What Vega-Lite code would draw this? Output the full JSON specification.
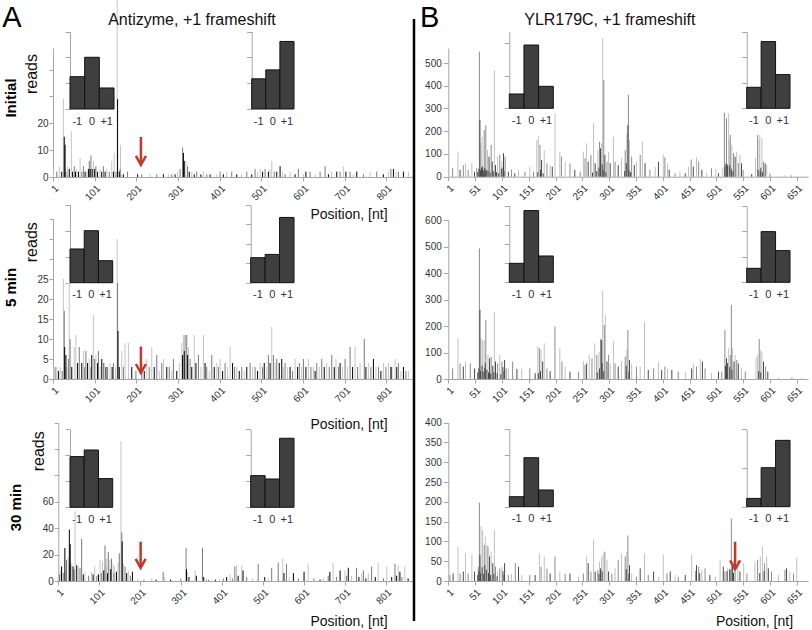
{
"$schema":"https://vega.github.io/schema/vega-lite/v6.json",
"width":812,"height":630,"padding":0,"autosize":{"type":"none"},
"background":"white",
"config":{"view":{"stroke":null},"font":"Liberation Sans","axis":{"grid":false,"domainColor":"#a6a6a6","tickColor":"#a6a6a6","labelColor":"#333333","labelFontSize":10,"titleColor":"#111111","titleFontWeight":"normal"}},
"datasets":{
"a1":[{"p":2,"r":3,"f":2},{"p":10,"r":2,"f":1},{"p":16,"r":4,"f":2},{"p":22,"r":2,"f":0},{"p":26,"r":29,"f":2},{"p":28,"r":15,"f":0},{"p":30,"r":12,"f":0},{"p":32,"r":2,"f":1},{"p":36,"r":4,"f":2},{"p":40,"r":3,"f":0},{"p":45,"r":17,"f":2},{"p":48,"r":2,"f":0},{"p":52,"r":4,"f":1},{"p":55,"r":2,"f":0},{"p":58,"r":3,"f":2},{"p":62,"r":2,"f":0},{"p":66,"r":7,"f":2},{"p":70,"r":2,"f":1},{"p":74,"r":4,"f":1},{"p":78,"r":2,"f":0},{"p":82,"r":2,"f":2},{"p":86,"r":3,"f":0},{"p":88,"r":6,"f":1},{"p":90,"r":3,"f":0},{"p":92,"r":8,"f":1},{"p":95,"r":3,"f":0},{"p":98,"r":6,"f":2},{"p":101,"r":3,"f":0},{"p":104,"r":4,"f":1},{"p":108,"r":2,"f":0},{"p":114,"r":3,"f":2},{"p":118,"r":2,"f":0},{"p":122,"r":4,"f":1},{"p":126,"r":2,"f":0},{"p":130,"r":3,"f":2},{"p":136,"r":2,"f":1},{"p":142,"r":6,"f":2},{"p":146,"r":2,"f":0},{"p":148,"r":9,"f":2},{"p":152,"r":2,"f":1},{"p":155,"r":66,"f":2},{"p":156,"r":29,"f":0},{"p":160,"r":2,"f":0},{"p":162,"r":3,"f":1},{"p":163,"r":12,"f":2},{"p":166,"r":1,"f":2},{"p":170,"r":1,"f":0},{"p":180,"r":2,"f":1},{"p":204,"r":1,"f":0},{"p":214,"r":1,"f":1},{"p":234,"r":1,"f":2},{"p":250,"r":1,"f":1},{"p":266,"r":1,"f":0},{"p":278,"r":1,"f":2},{"p":286,"r":1,"f":1},{"p":294,"r":1,"f":0},{"p":300,"r":2,"f":2},{"p":306,"r":3,"f":1},{"p":312,"r":11,"f":1},{"p":314,"r":9,"f":0},{"p":316,"r":6,"f":0},{"p":320,"r":6,"f":2},{"p":324,"r":4,"f":1},{"p":328,"r":2,"f":0},{"p":334,"r":2,"f":2},{"p":340,"r":1,"f":0},{"p":346,"r":2,"f":1},{"p":356,"r":1,"f":0},{"p":362,"r":2,"f":2},{"p":370,"r":1,"f":1},{"p":378,"r":1,"f":0},{"p":394,"r":1,"f":2},{"p":402,"r":2,"f":1},{"p":410,"r":1,"f":0},{"p":418,"r":2,"f":2},{"p":430,"r":2,"f":1},{"p":442,"r":1,"f":0},{"p":454,"r":1,"f":2},{"p":466,"r":2,"f":1},{"p":478,"r":1,"f":0},{"p":486,"r":3,"f":1},{"p":492,"r":2,"f":2},{"p":498,"r":3,"f":2},{"p":504,"r":2,"f":0},{"p":510,"r":3,"f":1},{"p":518,"r":2,"f":0},{"p":522,"r":3,"f":2},{"p":526,"r":6,"f":2},{"p":532,"r":2,"f":1},{"p":538,"r":2,"f":0},{"p":546,"r":4,"f":0},{"p":552,"r":2,"f":2},{"p":558,"r":1,"f":1},{"p":570,"r":2,"f":2},{"p":582,"r":1,"f":0},{"p":590,"r":3,"f":1},{"p":602,"r":1,"f":2},{"p":608,"r":2,"f":0},{"p":618,"r":2,"f":1},{"p":630,"r":1,"f":2},{"p":642,"r":2,"f":1},{"p":654,"r":4,"f":1},{"p":662,"r":1,"f":0},{"p":670,"r":2,"f":2},{"p":682,"r":2,"f":0},{"p":690,"r":2,"f":1},{"p":698,"r":4,"f":2},{"p":704,"r":2,"f":0},{"p":714,"r":2,"f":1},{"p":722,"r":1,"f":2},{"p":730,"r":2,"f":0},{"p":746,"r":1,"f":1},{"p":762,"r":2,"f":2},{"p":778,"r":2,"f":1},{"p":794,"r":1,"f":0},{"p":806,"r":2,"f":2},{"p":812,"r":3,"f":1},{"p":818,"r":3,"f":0},{"p":824,"r":2,"f":2},{"p":830,"r":2,"f":1},{"p":842,"r":2,"f":0},{"p":854,"r":2,"f":2}],
"a2":[{"p":2,"r":3,"f":2},{"p":6,"r":3,"f":1},{"p":10,"r":3,"f":2},{"p":14,"r":2,"f":0},{"p":18,"r":3,"f":2},{"p":23,"r":2,"f":1},{"p":26,"r":25,"f":2},{"p":28,"r":17,"f":1},{"p":29,"r":8,"f":0},{"p":32,"r":6,"f":0},{"p":34,"r":3,"f":2},{"p":38,"r":5,"f":1},{"p":40,"r":24,"f":2},{"p":42,"r":10,"f":1},{"p":46,"r":3,"f":0},{"p":52,"r":8,"f":2},{"p":56,"r":11,"f":2},{"p":60,"r":4,"f":0},{"p":64,"r":8,"f":1},{"p":70,"r":4,"f":0},{"p":74,"r":7,"f":2},{"p":77,"r":3,"f":1},{"p":80,"r":7,"f":1},{"p":84,"r":4,"f":0},{"p":88,"r":5,"f":2},{"p":92,"r":3,"f":1},{"p":94,"r":6,"f":0},{"p":98,"r":16,"f":2},{"p":101,"r":5,"f":1},{"p":104,"r":6,"f":2},{"p":108,"r":4,"f":0},{"p":110,"r":7,"f":1},{"p":114,"r":3,"f":2},{"p":118,"r":5,"f":0},{"p":122,"r":4,"f":1},{"p":124,"r":4,"f":2},{"p":128,"r":3,"f":0},{"p":132,"r":3,"f":1},{"p":138,"r":4,"f":2},{"p":143,"r":3,"f":0},{"p":146,"r":4,"f":1},{"p":151,"r":3,"f":2},{"p":155,"r":35,"f":2},{"p":156,"r":24,"f":1},{"p":157,"r":12,"f":0},{"p":160,"r":3,"f":0},{"p":166,"r":7,"f":2},{"p":170,"r":3,"f":1},{"p":174,"r":9,"f":2},{"p":182,"r":9,"f":2},{"p":190,"r":3,"f":0},{"p":200,"r":2,"f":1},{"p":214,"r":4,"f":1},{"p":220,"r":2,"f":0},{"p":226,"r":5,"f":2},{"p":232,"r":3,"f":1},{"p":238,"r":8,"f":2},{"p":244,"r":3,"f":0},{"p":250,"r":6,"f":1},{"p":256,"r":2,"f":2},{"p":262,"r":4,"f":1},{"p":266,"r":5,"f":2},{"p":274,"r":3,"f":0},{"p":280,"r":3,"f":1},{"p":286,"r":2,"f":2},{"p":290,"r":5,"f":1},{"p":298,"r":2,"f":0},{"p":304,"r":4,"f":2},{"p":310,"r":9,"f":2},{"p":312,"r":6,"f":0},{"p":314,"r":11,"f":2},{"p":316,"r":7,"f":0},{"p":318,"r":11,"f":1},{"p":322,"r":11,"f":1},{"p":324,"r":6,"f":0},{"p":326,"r":8,"f":2},{"p":330,"r":5,"f":1},{"p":334,"r":3,"f":0},{"p":340,"r":11,"f":2},{"p":344,"r":4,"f":0},{"p":350,"r":6,"f":1},{"p":356,"r":3,"f":2},{"p":362,"r":11,"f":2},{"p":366,"r":4,"f":0},{"p":370,"r":3,"f":1},{"p":376,"r":2,"f":2},{"p":382,"r":6,"f":1},{"p":388,"r":3,"f":0},{"p":394,"r":4,"f":2},{"p":398,"r":3,"f":1},{"p":402,"r":5,"f":2},{"p":408,"r":2,"f":0},{"p":414,"r":4,"f":1},{"p":420,"r":3,"f":2},{"p":426,"r":8,"f":2},{"p":432,"r":4,"f":0},{"p":437,"r":3,"f":1},{"p":442,"r":3,"f":2},{"p":448,"r":2,"f":0},{"p":454,"r":3,"f":1},{"p":460,"r":2,"f":2},{"p":466,"r":3,"f":0},{"p":474,"r":4,"f":1},{"p":480,"r":3,"f":2},{"p":486,"r":3,"f":1},{"p":492,"r":2,"f":0},{"p":498,"r":4,"f":2},{"p":504,"r":3,"f":1},{"p":508,"r":4,"f":0},{"p":514,"r":3,"f":2},{"p":518,"r":6,"f":1},{"p":522,"r":4,"f":0},{"p":526,"r":13,"f":2},{"p":530,"r":6,"f":1},{"p":534,"r":4,"f":2},{"p":538,"r":5,"f":1},{"p":544,"r":4,"f":0},{"p":550,"r":5,"f":0},{"p":554,"r":3,"f":2},{"p":558,"r":4,"f":1},{"p":564,"r":3,"f":2},{"p":570,"r":3,"f":0},{"p":576,"r":2,"f":1},{"p":582,"r":5,"f":2},{"p":588,"r":3,"f":0},{"p":592,"r":4,"f":1},{"p":598,"r":3,"f":2},{"p":602,"r":5,"f":1},{"p":608,"r":3,"f":0},{"p":614,"r":5,"f":2},{"p":620,"r":3,"f":1},{"p":626,"r":3,"f":2},{"p":630,"r":2,"f":0},{"p":634,"r":4,"f":1},{"p":640,"r":3,"f":2},{"p":646,"r":5,"f":1},{"p":652,"r":3,"f":0},{"p":658,"r":4,"f":2},{"p":664,"r":3,"f":1},{"p":670,"r":6,"f":1},{"p":676,"r":3,"f":0},{"p":680,"r":5,"f":2},{"p":686,"r":3,"f":1},{"p":690,"r":4,"f":0},{"p":696,"r":3,"f":2},{"p":702,"r":5,"f":1},{"p":708,"r":3,"f":2},{"p":714,"r":8,"f":1},{"p":720,"r":3,"f":0},{"p":726,"r":8,"f":2},{"p":732,"r":3,"f":1},{"p":738,"r":4,"f":2},{"p":748,"r":10,"f":1},{"p":752,"r":3,"f":0},{"p":758,"r":4,"f":2},{"p":764,"r":3,"f":1},{"p":770,"r":5,"f":0},{"p":776,"r":3,"f":2},{"p":782,"r":3,"f":1},{"p":788,"r":2,"f":0},{"p":794,"r":4,"f":2},{"p":800,"r":3,"f":1},{"p":806,"r":4,"f":2},{"p":812,"r":3,"f":0},{"p":814,"r":3,"f":1},{"p":822,"r":5,"f":2},{"p":826,"r":3,"f":0},{"p":830,"r":4,"f":1},{"p":836,"r":2,"f":2},{"p":842,"r":3,"f":0},{"p":848,"r":2,"f":1},{"p":854,"r":2,"f":2}],
"a3":[{"p":1,"r":3,"f":2},{"p":4,"r":5,"f":1},{"p":7,"r":8,"f":2},{"p":9,"r":11,"f":0},{"p":13,"r":6,"f":1},{"p":17,"r":25,"f":0},{"p":19,"r":8,"f":2},{"p":21,"r":16,"f":1},{"p":25,"r":18,"f":2},{"p":28,"r":39,"f":0},{"p":30,"r":28,"f":0},{"p":31,"r":12,"f":1},{"p":34,"r":14,"f":2},{"p":37,"r":11,"f":0},{"p":40,"r":9,"f":1},{"p":42,"r":53,"f":2},{"p":46,"r":12,"f":0},{"p":50,"r":11,"f":2},{"p":54,"r":10,"f":1},{"p":58,"r":32,"f":1},{"p":62,"r":5,"f":0},{"p":66,"r":7,"f":2},{"p":75,"r":4,"f":1},{"p":82,"r":7,"f":2},{"p":86,"r":5,"f":0},{"p":90,"r":11,"f":2},{"p":95,"r":4,"f":1},{"p":99,"r":5,"f":0},{"p":103,"r":16,"f":2},{"p":106,"r":6,"f":1},{"p":109,"r":15,"f":2},{"p":112,"r":8,"f":0},{"p":115,"r":27,"f":1},{"p":117,"r":12,"f":2},{"p":119,"r":17,"f":2},{"p":121,"r":6,"f":0},{"p":123,"r":22,"f":1},{"p":127,"r":16,"f":2},{"p":129,"r":9,"f":0},{"p":131,"r":17,"f":1},{"p":135,"r":13,"f":2},{"p":137,"r":6,"f":1},{"p":139,"r":11,"f":2},{"p":143,"r":7,"f":0},{"p":147,"r":14,"f":2},{"p":150,"r":21,"f":1},{"p":154,"r":106,"f":2},{"p":156,"r":37,"f":1},{"p":157,"r":30,"f":0},{"p":160,"r":13,"f":2},{"p":164,"r":11,"f":1},{"p":168,"r":6,"f":0},{"p":172,"r":8,"f":2},{"p":177,"r":4,"f":1},{"p":182,"r":7,"f":0},{"p":195,"r":2,"f":2},{"p":210,"r":1,"f":1},{"p":229,"r":2,"f":2},{"p":240,"r":1,"f":0},{"p":257,"r":7,"f":1},{"p":261,"r":3,"f":2},{"p":275,"r":1,"f":0},{"p":300,"r":2,"f":1},{"p":313,"r":25,"f":1},{"p":314,"r":9,"f":0},{"p":316,"r":7,"f":2},{"p":320,"r":3,"f":0},{"p":335,"r":8,"f":2},{"p":338,"r":4,"f":0},{"p":353,"r":25,"f":1},{"p":356,"r":3,"f":0},{"p":363,"r":2,"f":2},{"p":368,"r":1,"f":1},{"p":385,"r":1,"f":0},{"p":395,"r":2,"f":2},{"p":404,"r":2,"f":1},{"p":412,"r":3,"f":0},{"p":420,"r":5,"f":2},{"p":426,"r":2,"f":1},{"p":432,"r":11,"f":1},{"p":436,"r":12,"f":2},{"p":440,"r":4,"f":0},{"p":449,"r":12,"f":2},{"p":452,"r":8,"f":0},{"p":461,"r":3,"f":1},{"p":475,"r":2,"f":2},{"p":489,"r":13,"f":1},{"p":505,"r":3,"f":0},{"p":515,"r":2,"f":2},{"p":522,"r":10,"f":1},{"p":538,"r":14,"f":1},{"p":549,"r":17,"f":2},{"p":552,"r":6,"f":0},{"p":558,"r":13,"f":1},{"p":565,"r":3,"f":2},{"p":575,"r":6,"f":0},{"p":587,"r":2,"f":1},{"p":601,"r":7,"f":0},{"p":611,"r":13,"f":2},{"p":625,"r":2,"f":1},{"p":640,"r":1,"f":0},{"p":648,"r":2,"f":2},{"p":660,"r":4,"f":1},{"p":664,"r":7,"f":0},{"p":672,"r":14,"f":2},{"p":680,"r":3,"f":1},{"p":689,"r":8,"f":0},{"p":701,"r":8,"f":2},{"p":705,"r":4,"f":1},{"p":709,"r":10,"f":0},{"p":717,"r":4,"f":2},{"p":729,"r":10,"f":1},{"p":735,"r":3,"f":0},{"p":742,"r":6,"f":2},{"p":746,"r":8,"f":1},{"p":752,"r":2,"f":0},{"p":758,"r":6,"f":2},{"p":766,"r":11,"f":1},{"p":775,"r":3,"f":0},{"p":782,"r":14,"f":2},{"p":795,"r":2,"f":1},{"p":803,"r":11,"f":2},{"p":815,"r":3,"f":0},{"p":823,"r":13,"f":1},{"p":827,"r":4,"f":0},{"p":831,"r":12,"f":2},{"p":835,"r":7,"f":0},{"p":840,"r":3,"f":1},{"p":847,"r":11,"f":2},{"p":855,"r":2,"f":0}],
"b1":[{"p":9,"r":37,"f":1},{"p":19,"r":110,"f":2},{"p":23,"r":30,"f":0},{"p":29,"r":51,"f":1},{"p":33,"r":59,"f":2},{"p":38,"r":30,"f":1},{"p":45,"r":59,"f":2},{"p":50,"r":22,"f":0},{"p":54,"r":37,"f":1},{"p":59,"r":550,"f":1},{"p":60,"r":250,"f":0},{"p":62,"r":147,"f":2},{"p":63,"r":40,"f":0},{"p":64,"r":176,"f":2},{"p":66,"r":30,"f":0},{"p":68,"r":205,"f":1},{"p":70,"r":25,"f":0},{"p":71,"r":227,"f":1},{"p":74,"r":117,"f":2},{"p":77,"r":88,"f":0},{"p":81,"r":140,"f":1},{"p":83,"r":66,"f":0},{"p":87,"r":469,"f":2},{"p":89,"r":51,"f":0},{"p":93,"r":88,"f":2},{"p":97,"r":96,"f":1},{"p":100,"r":35,"f":0},{"p":101,"r":66,"f":2},{"p":104,"r":103,"f":0},{"p":107,"r":88,"f":1},{"p":113,"r":22,"f":0},{"p":119,"r":32,"f":1},{"p":125,"r":15,"f":0},{"p":132,"r":30,"f":2},{"p":144,"r":22,"f":1},{"p":153,"r":44,"f":2},{"p":160,"r":22,"f":1},{"p":166,"r":161,"f":2},{"p":169,"r":179,"f":2},{"p":172,"r":140,"f":1},{"p":175,"r":74,"f":0},{"p":180,"r":117,"f":2},{"p":185,"r":59,"f":1},{"p":191,"r":51,"f":2},{"p":195,"r":44,"f":0},{"p":200,"r":279,"f":2},{"p":209,"r":110,"f":2},{"p":212,"r":88,"f":1},{"p":219,"r":66,"f":2},{"p":228,"r":59,"f":1},{"p":237,"r":30,"f":0},{"p":247,"r":22,"f":1},{"p":253,"r":110,"f":2},{"p":256,"r":81,"f":1},{"p":259,"r":147,"f":2},{"p":262,"r":66,"f":0},{"p":267,"r":96,"f":1},{"p":272,"r":235,"f":2},{"p":275,"r":59,"f":0},{"p":280,"r":117,"f":2},{"p":283,"r":154,"f":1},{"p":285,"r":125,"f":0},{"p":287,"r":147,"f":2},{"p":289,"r":609,"f":2},{"p":291,"r":425,"f":1},{"p":293,"r":96,"f":0},{"p":297,"r":66,"f":1},{"p":300,"r":110,"f":2},{"p":303,"r":59,"f":0},{"p":309,"r":176,"f":2},{"p":312,"r":66,"f":1},{"p":318,"r":51,"f":0},{"p":324,"r":81,"f":2},{"p":331,"r":117,"f":1},{"p":334,"r":191,"f":2},{"p":336,"r":227,"f":0},{"p":337,"r":360,"f":1},{"p":339,"r":161,"f":2},{"p":343,"r":88,"f":1},{"p":348,"r":51,"f":0},{"p":352,"r":66,"f":2},{"p":359,"r":96,"f":1},{"p":363,"r":154,"f":2},{"p":368,"r":59,"f":0},{"p":377,"r":30,"f":1},{"p":387,"r":44,"f":2},{"p":393,"r":66,"f":0},{"p":402,"r":96,"f":2},{"p":405,"r":85,"f":1},{"p":410,"r":59,"f":2},{"p":413,"r":30,"f":0},{"p":424,"r":15,"f":1},{"p":433,"r":22,"f":2},{"p":443,"r":15,"f":0},{"p":449,"r":44,"f":2},{"p":454,"r":76,"f":1},{"p":458,"r":44,"f":0},{"p":464,"r":85,"f":2},{"p":468,"r":66,"f":1},{"p":474,"r":30,"f":0},{"p":483,"r":18,"f":2},{"p":492,"r":37,"f":1},{"p":500,"r":32,"f":2},{"p":505,"r":15,"f":0},{"p":512,"r":37,"f":2},{"p":516,"r":282,"f":1},{"p":519,"r":59,"f":0},{"p":520,"r":257,"f":1},{"p":522,"r":50,"f":0},{"p":524,"r":279,"f":2},{"p":525,"r":161,"f":2},{"p":527,"r":183,"f":1},{"p":530,"r":140,"f":2},{"p":533,"r":103,"f":1},{"p":536,"r":88,"f":0},{"p":539,"r":110,"f":2},{"p":542,"r":59,"f":1},{"p":545,"r":96,"f":2},{"p":548,"r":59,"f":0},{"p":551,"r":30,"f":1},{"p":567,"r":12,"f":0},{"p":574,"r":81,"f":2},{"p":578,"r":183,"f":1},{"p":581,"r":161,"f":2},{"p":582,"r":183,"f":2},{"p":584,"r":40,"f":0},{"p":586,"r":169,"f":2},{"p":589,"r":66,"f":1},{"p":592,"r":59,"f":0},{"p":595,"r":51,"f":2},{"p":601,"r":15,"f":1},{"p":629,"r":7,"f":2},{"p":641,"r":6,"f":1},{"p":56,"r":20,"f":0},{"p":58,"r":35,"f":0},{"p":61,"r":28,"f":0},{"p":65,"r":45,"f":0},{"p":67,"r":22,"f":0},{"p":69,"r":38,"f":0},{"p":72,"r":30,"f":0},{"p":75,"r":26,"f":0},{"p":79,"r":18,"f":0},{"p":85,"r":24,"f":0},{"p":91,"r":20,"f":0},{"p":95,"r":15,"f":0},{"p":103,"r":40,"f":0},{"p":105,"r":25,"f":0},{"p":168,"r":20,"f":0},{"p":173,"r":30,"f":0},{"p":178,"r":15,"f":0},{"p":270,"r":18,"f":0},{"p":278,"r":25,"f":0},{"p":282,"r":40,"f":0},{"p":288,"r":55,"f":0},{"p":290,"r":30,"f":0},{"p":295,"r":20,"f":0},{"p":330,"r":25,"f":0},{"p":333,"r":60,"f":0},{"p":338,"r":30,"f":0},{"p":341,"r":20,"f":0},{"p":517,"r":45,"f":0},{"p":521,"r":55,"f":0},{"p":526,"r":50,"f":0},{"p":529,"r":35,"f":0},{"p":532,"r":25,"f":0},{"p":579,"r":30,"f":0},{"p":583,"r":25,"f":0},{"p":587,"r":20,"f":0}],
"b2":[{"p":9,"r":40,"f":1},{"p":19,"r":156,"f":2},{"p":23,"r":59,"f":1},{"p":29,"r":47,"f":0},{"p":33,"r":66,"f":2},{"p":42,"r":59,"f":1},{"p":50,"r":40,"f":0},{"p":59,"r":494,"f":1},{"p":60,"r":261,"f":0},{"p":62,"r":154,"f":2},{"p":65,"r":147,"f":2},{"p":68,"r":147,"f":2},{"p":70,"r":60,"f":0},{"p":71,"r":223,"f":1},{"p":75,"r":91,"f":2},{"p":78,"r":78,"f":0},{"p":81,"r":84,"f":1},{"p":84,"r":50,"f":0},{"p":87,"r":255,"f":2},{"p":89,"r":66,"f":0},{"p":93,"r":59,"f":1},{"p":97,"r":91,"f":2},{"p":101,"r":66,"f":1},{"p":106,"r":72,"f":0},{"p":109,"r":40,"f":1},{"p":113,"r":40,"f":2},{"p":121,"r":66,"f":1},{"p":129,"r":38,"f":0},{"p":138,"r":38,"f":2},{"p":153,"r":40,"f":1},{"p":163,"r":22,"f":0},{"p":168,"r":122,"f":2},{"p":171,"r":116,"f":1},{"p":174,"r":110,"f":2},{"p":177,"r":66,"f":0},{"p":180,"r":135,"f":2},{"p":185,"r":40,"f":1},{"p":191,"r":30,"f":0},{"p":200,"r":198,"f":1},{"p":209,"r":116,"f":2},{"p":213,"r":66,"f":1},{"p":219,"r":47,"f":2},{"p":228,"r":28,"f":0},{"p":244,"r":28,"f":1},{"p":253,"r":66,"f":2},{"p":256,"r":53,"f":1},{"p":259,"r":59,"f":0},{"p":264,"r":91,"f":2},{"p":269,"r":78,"f":1},{"p":274,"r":135,"f":2},{"p":278,"r":91,"f":1},{"p":282,"r":103,"f":2},{"p":285,"r":151,"f":1},{"p":287,"r":147,"f":0},{"p":289,"r":333,"f":2},{"p":292,"r":204,"f":1},{"p":294,"r":242,"f":2},{"p":297,"r":66,"f":0},{"p":300,"r":91,"f":1},{"p":303,"r":59,"f":2},{"p":309,"r":144,"f":2},{"p":312,"r":59,"f":1},{"p":318,"r":47,"f":0},{"p":324,"r":66,"f":2},{"p":331,"r":84,"f":1},{"p":334,"r":110,"f":2},{"p":336,"r":185,"f":1},{"p":339,"r":72,"f":0},{"p":343,"r":59,"f":2},{"p":352,"r":47,"f":1},{"p":359,"r":47,"f":2},{"p":367,"r":217,"f":2},{"p":374,"r":34,"f":0},{"p":384,"r":40,"f":1},{"p":393,"r":66,"f":2},{"p":399,"r":34,"f":0},{"p":405,"r":47,"f":1},{"p":410,"r":40,"f":2},{"p":418,"r":34,"f":0},{"p":430,"r":28,"f":1},{"p":443,"r":28,"f":2},{"p":455,"r":40,"f":0},{"p":458,"r":59,"f":2},{"p":464,"r":47,"f":1},{"p":471,"r":76,"f":2},{"p":475,"r":66,"f":0},{"p":480,"r":40,"f":1},{"p":492,"r":22,"f":2},{"p":505,"r":28,"f":0},{"p":511,"r":28,"f":1},{"p":517,"r":185,"f":1},{"p":520,"r":78,"f":0},{"p":524,"r":116,"f":2},{"p":527,"r":91,"f":1},{"p":529,"r":280,"f":1},{"p":531,"r":116,"f":2},{"p":534,"r":66,"f":0},{"p":536,"r":91,"f":2},{"p":539,"r":72,"f":1},{"p":542,"r":59,"f":0},{"p":548,"r":40,"f":2},{"p":555,"r":28,"f":1},{"p":575,"r":81,"f":2},{"p":578,"r":91,"f":2},{"p":581,"r":151,"f":1},{"p":583,"r":110,"f":2},{"p":586,"r":103,"f":2},{"p":589,"r":66,"f":0},{"p":593,"r":47,"f":1},{"p":597,"r":28,"f":0},{"p":617,"r":5,"f":2},{"p":642,"r":5,"f":1},{"p":660,"r":4,"f":2},{"p":56,"r":25,"f":0},{"p":58,"r":40,"f":0},{"p":61,"r":30,"f":0},{"p":64,"r":50,"f":0},{"p":66,"r":28,"f":0},{"p":69,"r":42,"f":0},{"p":73,"r":35,"f":0},{"p":76,"r":25,"f":0},{"p":80,"r":20,"f":0},{"p":86,"r":26,"f":0},{"p":92,"r":22,"f":0},{"p":99,"r":18,"f":0},{"p":103,"r":45,"f":0},{"p":105,"r":28,"f":0},{"p":169,"r":22,"f":0},{"p":173,"r":30,"f":0},{"p":279,"r":25,"f":0},{"p":283,"r":40,"f":0},{"p":288,"r":60,"f":0},{"p":291,"r":30,"f":0},{"p":333,"r":50,"f":0},{"p":338,"r":28,"f":0},{"p":518,"r":50,"f":0},{"p":522,"r":60,"f":0},{"p":526,"r":45,"f":0},{"p":530,"r":35,"f":0},{"p":580,"r":30,"f":0},{"p":584,"r":25,"f":0}],
"b3":[{"p":4,"r":15,"f":1},{"p":10,"r":19,"f":0},{"p":19,"r":87,"f":2},{"p":23,"r":19,"f":1},{"p":29,"r":24,"f":0},{"p":33,"r":70,"f":2},{"p":38,"r":19,"f":1},{"p":45,"r":66,"f":2},{"p":50,"r":24,"f":0},{"p":57,"r":36,"f":1},{"p":59,"r":198,"f":1},{"p":60,"r":66,"f":0},{"p":62,"r":139,"f":2},{"p":65,"r":129,"f":2},{"p":68,"r":91,"f":1},{"p":70,"r":112,"f":2},{"p":73,"r":91,"f":2},{"p":75,"r":87,"f":1},{"p":78,"r":62,"f":0},{"p":81,"r":74,"f":2},{"p":84,"r":45,"f":0},{"p":87,"r":129,"f":2},{"p":89,"r":36,"f":1},{"p":93,"r":24,"f":2},{"p":97,"r":32,"f":1},{"p":101,"r":36,"f":2},{"p":106,"r":45,"f":0},{"p":113,"r":15,"f":1},{"p":119,"r":18,"f":2},{"p":126,"r":45,"f":1},{"p":132,"r":36,"f":0},{"p":138,"r":15,"f":2},{"p":153,"r":15,"f":1},{"p":163,"r":15,"f":0},{"p":171,"r":70,"f":2},{"p":174,"r":36,"f":1},{"p":180,"r":62,"f":2},{"p":185,"r":32,"f":1},{"p":191,"r":19,"f":0},{"p":200,"r":62,"f":1},{"p":209,"r":24,"f":2},{"p":219,"r":18,"f":1},{"p":228,"r":19,"f":0},{"p":244,"r":11,"f":2},{"p":253,"r":19,"f":1},{"p":259,"r":62,"f":2},{"p":262,"r":45,"f":0},{"p":267,"r":24,"f":1},{"p":272,"r":105,"f":2},{"p":275,"r":24,"f":0},{"p":280,"r":28,"f":1},{"p":283,"r":49,"f":2},{"p":285,"r":32,"f":0},{"p":287,"r":62,"f":2},{"p":290,"r":70,"f":2},{"p":293,"r":74,"f":1},{"p":297,"r":53,"f":2},{"p":300,"r":24,"f":0},{"p":306,"r":19,"f":1},{"p":312,"r":32,"f":2},{"p":318,"r":53,"f":1},{"p":324,"r":70,"f":2},{"p":331,"r":62,"f":1},{"p":334,"r":74,"f":2},{"p":336,"r":115,"f":1},{"p":339,"r":40,"f":0},{"p":343,"r":19,"f":2},{"p":352,"r":11,"f":1},{"p":359,"r":32,"f":0},{"p":367,"r":70,"f":2},{"p":374,"r":15,"f":1},{"p":384,"r":24,"f":0},{"p":393,"r":11,"f":2},{"p":402,"r":66,"f":2},{"p":409,"r":19,"f":1},{"p":415,"r":24,"f":0},{"p":424,"r":15,"f":2},{"p":430,"r":11,"f":1},{"p":443,"r":15,"f":0},{"p":455,"r":66,"f":2},{"p":464,"r":40,"f":0},{"p":468,"r":36,"f":1},{"p":474,"r":28,"f":2},{"p":480,"r":32,"f":1},{"p":489,"r":15,"f":0},{"p":499,"r":11,"f":2},{"p":508,"r":53,"f":2},{"p":514,"r":36,"f":0},{"p":517,"r":24,"f":1},{"p":522,"r":32,"f":2},{"p":527,"r":28,"f":1},{"p":529,"r":158,"f":1},{"p":531,"r":36,"f":0},{"p":534,"r":53,"f":2},{"p":536,"r":24,"f":1},{"p":541,"r":53,"f":2},{"p":545,"r":24,"f":0},{"p":552,"r":45,"f":2},{"p":558,"r":19,"f":1},{"p":573,"r":49,"f":2},{"p":578,"r":53,"f":1},{"p":583,"r":62,"f":2},{"p":587,"r":87,"f":2},{"p":591,"r":45,"f":1},{"p":595,"r":62,"f":2},{"p":598,"r":32,"f":0},{"p":604,"r":24,"f":1},{"p":617,"r":15,"f":2},{"p":629,"r":28,"f":1},{"p":632,"r":32,"f":0},{"p":638,"r":24,"f":2},{"p":645,"r":19,"f":1},{"p":651,"r":60,"f":2},{"p":56,"r":15,"f":0},{"p":58,"r":25,"f":0},{"p":61,"r":20,"f":0},{"p":64,"r":35,"f":0},{"p":67,"r":18,"f":0},{"p":69,"r":40,"f":0},{"p":72,"r":28,"f":0},{"p":76,"r":20,"f":0},{"p":80,"r":15,"f":0},{"p":86,"r":18,"f":0},{"p":92,"r":12,"f":0},{"p":103,"r":25,"f":0},{"p":105,"r":15,"f":0},{"p":282,"r":18,"f":0},{"p":288,"r":25,"f":0},{"p":333,"r":30,"f":0},{"p":338,"r":18,"f":0},{"p":463,"r":25,"f":0},{"p":470,"r":20,"f":0},{"p":521,"r":25,"f":0},{"p":526,"r":30,"f":0},{"p":533,"r":20,"f":0},{"p":582,"r":20,"f":0},{"p":590,"r":25,"f":0}],
"ins":[{"p":"A1L","k":"-1","v":41.8},{"p":"A1L","k":"0","v":66.9},{"p":"A1L","k":"+1","v":27.2},{"p":"A1R","k":"-1","v":39},{"p":"A1R","k":"0","v":50.6},{"p":"A1R","k":"+1","v":87.4},{"p":"A2L","k":"-1","v":43.4},{"p":"A2L","k":"0","v":66.9},{"p":"A2L","k":"+1","v":28.3},{"p":"A2R","k":"-1","v":32.2},{"p":"A2R","k":"0","v":36.4},{"p":"A2R","k":"+1","v":84},{"p":"A3L","k":"-1","v":65},{"p":"A3L","k":"0","v":73.5},{"p":"A3L","k":"+1","v":36.8},{"p":"A3R","k":"-1","v":40.6},{"p":"A3R","k":"0","v":36.3},{"p":"A3R","k":"+1","v":88.5},{"p":"B1L","k":"-1","v":18.7},{"p":"B1L","k":"0","v":82.6},{"p":"B1L","k":"+1","v":28.7},{"p":"B1R","k":"-1","v":27.4},{"p":"B1R","k":"0","v":87.1},{"p":"B1R","k":"+1","v":44},{"p":"B2L","k":"-1","v":24.9},{"p":"B2L","k":"0","v":94},{"p":"B2L","k":"+1","v":34.5},{"p":"B2R","k":"-1","v":18.3},{"p":"B2R","k":"0","v":66.4},{"p":"B2R","k":"+1","v":41.5},{"p":"B3L","k":"-1","v":12.9},{"p":"B3L","k":"0","v":63.3},{"p":"B3L","k":"+1","v":21.6},{"p":"B3R","k":"-1","v":10.7},{"p":"B3R","k":"0","v":50.4},{"p":"B3R","k":"+1","v":85.7}]
},
"layer":[
{"data":{"name":"a1"},"mark":{"type":"rule","strokeWidth":1},"encoding":{
 "x":{"field":"p","type":"quantitative","scale":{"domain":[1,865],"range":[53,413],"nice":false,"zero":false},"axis":{"orient":"bottom","offset":-453,"values":[1,101,201,301,401,501,601,701,801],"labelAngle":-45,"tickSize":4,"title":"Position, [nt]","titleX":348.5,"titleY":37.5,"titleFontSize":14,"titleAlign":"center","titleBaseline":"middle","titleAngle":0}},
 "y":{"field":"r","type":"quantitative","scale":{"domain":[0,48],"range":[177,48],"nice":false,"zero":false},"axis":{"orient":"left","offset":-53,"values":[0,10,20,30,40],"labelExpr":"datum.value <= 20 ? datum.label : ''","tickSize":4,"labelPadding":1,"title":"reads","titleX":-22,"titleY":73.5,"titleFontSize":16,"titleAlign":"center","titleBaseline":"middle","titleAngle":-90}},
 "y2":{"datum":0},
 "color":{"field":"f","type":"nominal","scale":{"domain":[0,1,2],"range":["#000000","#7a7a7a","#c4c4c4"]},"legend":null},
 "order":{"field":"f","type":"quantitative","sort":"descending"}}},
{"data":{"values":[{}]},"mark":{"type":"rule","color":"#c0392b","strokeWidth":2.5},"encoding":{"x":{"datum":212,"scale":{"domain":[1,865],"range":[53,413],"nice":false,"zero":false},"axis":null},"y":{"datum":14.9,"scale":{"domain":[0,48],"range":[177,48],"nice":false,"zero":false},"axis":null},"y2":{"datum":5.2}}},
{"data":{"values":[{}]},"mark":{"type":"point","shape":"M-1,-1.8L0,0L1,-1.8","filled":false,"color":"#c0392b","strokeWidth":2.5,"size":100,"opacity":1},"encoding":{"x":{"datum":212,"scale":{"domain":[1,865],"range":[53,413],"nice":false,"zero":false},"axis":null},"y":{"datum":4.5,"scale":{"domain":[0,48],"range":[177,48],"nice":false,"zero":false},"axis":null}}},
{"data":{"values":[{}]},"mark":{"type":"text","text":"A","fontSize":29,"align":"left","baseline":"alphabetic","color":"#000000"},"encoding":{"x":{"datum":-121,"scale":{"domain":[1,865],"range":[53,413],"nice":false,"zero":false},"axis":null},"y":{"datum":55.8,"scale":{"domain":[0,48],"range":[177,48],"nice":false,"zero":false},"axis":null}}},
{"data":{"values":[{}]},"mark":{"type":"text","text":"Antizyme, +1 frameshift","fontSize":16,"align":"center","baseline":"alphabetic","color":"#111111"},"encoding":{"x":{"datum":334.6,"scale":{"domain":[1,865],"range":[53,413],"nice":false,"zero":false},"axis":null},"y":{"datum":56.7,"scale":{"domain":[0,48],"range":[177,48],"nice":false,"zero":false},"axis":null}}},
{"data":{"values":[{}]},"mark":{"type":"rule","color":"#000000","strokeWidth":2.5},"encoding":{"x":{"datum":867.4,"scale":{"domain":[1,865],"range":[53,413],"nice":false,"zero":false},"axis":null},"y":{"datum":58.8,"scale":{"domain":[0,48],"range":[177,48],"nice":false,"zero":false},"axis":null},"y2":{"datum":-165.2}}},
{"data":{"name":"a2"},"mark":{"type":"rule","strokeWidth":1},"encoding":{
 "x":{"field":"p","type":"quantitative","scale":{"domain":[1,865],"range":[53,413],"nice":false,"zero":false},"axis":{"orient":"bottom","offset":-251,"values":[1,101,201,301,401,501,601,701,801],"labelAngle":-45,"tickSize":4,"title":"Position, [nt]","titleX":348.5,"titleY":45.5,"titleFontSize":14,"titleAlign":"center","titleBaseline":"middle","titleAngle":0}},
 "y":{"field":"r","type":"quantitative","scale":{"domain":[0,40],"range":[379,219],"nice":false,"zero":false},"axis":{"orient":"left","offset":-53,"values":[0,5,10,15,20,25,30,35,40],"labelExpr":"datum.value <= 25 ? datum.label : ''","tickSize":4,"labelPadding":1,"title":"reads","titleX":-22,"titleY":241.7,"titleFontSize":16,"titleAlign":"center","titleBaseline":"middle","titleAngle":-90}},
 "y2":{"datum":0},
 "color":{"field":"f","type":"nominal","scale":{"domain":[0,1,2],"range":["#000000","#7a7a7a","#c4c4c4"]},"legend":null},
 "order":{"field":"f","type":"quantitative","sort":"descending"}}},
{"data":{"values":[{}]},"mark":{"type":"rule","color":"#c0392b","strokeWidth":2.5},"encoding":{"x":{"datum":212,"scale":{"domain":[1,865],"range":[53,413],"nice":false,"zero":false},"axis":null},"y":{"datum":8.1,"scale":{"domain":[0,40],"range":[379,219],"nice":false,"zero":false},"axis":null},"y2":{"datum":1.9}}},
{"data":{"values":[{}]},"mark":{"type":"point","shape":"M-1,-1.8L0,0L1,-1.8","filled":false,"color":"#c0392b","strokeWidth":2.5,"size":100,"opacity":1},"encoding":{"x":{"datum":212,"scale":{"domain":[1,865],"range":[53,413],"nice":false,"zero":false},"axis":null},"y":{"datum":1.5,"scale":{"domain":[0,40],"range":[379,219],"nice":false,"zero":false},"axis":null}}},
{"data":{"name":"a3"},"mark":{"type":"rule","strokeWidth":1},"encoding":{
 "x":{"field":"p","type":"quantitative","scale":{"domain":[1,867],"range":[58.3,413],"nice":false,"zero":false},"axis":{"orient":"bottom","offset":-49,"values":[1,101,201,301,401,501,601,701,801],"labelAngle":-45,"tickSize":4,"title":"Position, [nt]","titleX":348.5,"titleY":40,"titleFontSize":14,"titleAlign":"center","titleBaseline":"middle","titleAngle":0}},
 "y":{"field":"r","type":"quantitative","scale":{"domain":[0,120],"range":[581,422.7],"nice":false,"zero":false},"axis":{"orient":"left","offset":-58.3,"values":[0,20,40,60,80,100,120],"labelExpr":"datum.value <= 60 ? datum.label : ''","tickSize":4,"labelPadding":1,"title":"reads","titleX":-20.3,"titleY":450.8,"titleFontSize":16,"titleAlign":"center","titleBaseline":"middle","titleAngle":-90}},
 "y2":{"datum":0},
 "color":{"field":"f","type":"nominal","scale":{"domain":[0,1,2],"range":["#000000","#7a7a7a","#c4c4c4"]},"legend":null},
 "order":{"field":"f","type":"quantitative","sort":"descending"}}},
{"data":{"values":[{}]},"mark":{"type":"rule","color":"#c0392b","strokeWidth":2.5},"encoding":{"x":{"datum":202,"scale":{"domain":[1,867],"range":[58.3,413],"nice":false,"zero":false},"axis":null},"y":{"datum":29.8,"scale":{"domain":[0,120],"range":[581,422.7],"nice":false,"zero":false},"axis":null},"y2":{"datum":10.4}}},
{"data":{"values":[{}]},"mark":{"type":"point","shape":"M-1,-1.8L0,0L1,-1.8","filled":false,"color":"#c0392b","strokeWidth":2.5,"size":100,"opacity":1},"encoding":{"x":{"datum":202,"scale":{"domain":[1,867],"range":[58.3,413],"nice":false,"zero":false},"axis":null},"y":{"datum":9.9,"scale":{"domain":[0,120],"range":[581,422.7],"nice":false,"zero":false},"axis":null}}},
{"data":{"name":"b1"},"mark":{"type":"rule","strokeWidth":1},"encoding":{
 "x":{"field":"p","type":"quantitative","scale":{"domain":[1,672],"range":[448.3,808],"nice":false,"zero":false},"axis":{"orient":"bottom","offset":-453.3,"values":[1,51,101,151,201,251,301,351,401,451,501,551,601,651],"labelAngle":-45,"tickSize":4,"title":null}},
 "y":{"field":"r","type":"quantitative","scale":{"domain":[0,566],"range":[176.7,48],"nice":false,"zero":false},"axis":{"orient":"left","offset":-448.3,"values":[0,100,200,300,400,500],"tickSize":5,"labelPadding":2,"title":null}},
 "y2":{"datum":0},
 "color":{"field":"f","type":"nominal","scale":{"domain":[0,1,2],"range":["#484848","#8c8c8c","#c0c0c0"]},"legend":null},
 "order":{"field":"f","type":"quantitative","sort":"descending"}}},
{"data":{"values":[{}]},"mark":{"type":"text","text":"B","fontSize":29,"align":"left","baseline":"alphabetic","color":"#000000"},"encoding":{"x":{"datum":-51.8,"scale":{"domain":[1,672],"range":[448.3,808],"nice":false,"zero":false},"axis":null},"y":{"datum":659.6,"scale":{"domain":[0,566],"range":[176.7,48],"nice":false,"zero":false},"axis":null}}},
{"data":{"values":[{}]},"mark":{"type":"text","text":"YLR179C, +1 frameshift","fontSize":16,"align":"center","baseline":"alphabetic","color":"#111111"},"encoding":{"x":{"datum":302.3,"scale":{"domain":[1,672],"range":[448.3,808],"nice":false,"zero":false},"axis":null},"y":{"datum":669.3,"scale":{"domain":[0,566],"range":[176.7,48],"nice":false,"zero":false},"axis":null}}},
{"data":{"name":"b2"},"mark":{"type":"rule","strokeWidth":1},"encoding":{
 "x":{"field":"p","type":"quantitative","scale":{"domain":[1,672],"range":[448.3,808],"nice":false,"zero":false},"axis":{"orient":"bottom","offset":-251,"values":[1,51,101,151,201,251,301,351,401,451,501,551,601,651],"labelAngle":-45,"tickSize":4,"title":null}},
 "y":{"field":"r","type":"quantitative","scale":{"domain":[0,600],"range":[379,220.3],"nice":false,"zero":false},"axis":{"orient":"left","offset":-448.3,"values":[0,100,200,300,400,500,600],"tickSize":5,"labelPadding":2,"title":null}},
 "y2":{"datum":0},
 "color":{"field":"f","type":"nominal","scale":{"domain":[0,1,2],"range":["#484848","#8c8c8c","#c0c0c0"]},"legend":null},
 "order":{"field":"f","type":"quantitative","sort":"descending"}}},
{"data":{"name":"b3"},"mark":{"type":"rule","strokeWidth":1},"encoding":{
 "x":{"field":"p","type":"quantitative","scale":{"domain":[1,672],"range":[448.3,808],"nice":false,"zero":false},"axis":{"orient":"bottom","offset":-49,"values":[1,51,101,151,201,251,301,351,401,451,501,551,601,651],"labelAngle":-45,"tickSize":4,"title":"Position, [nt]","titleX":754,"titleY":40,"titleFontSize":14,"titleAlign":"center","titleBaseline":"middle","titleAngle":0}},
 "y":{"field":"r","type":"quantitative","scale":{"domain":[0,400],"range":[581,422.7],"nice":false,"zero":false},"axis":{"orient":"left","offset":-448.3,"values":[0,50,100,150,200,250,300,350,400],"tickSize":5,"labelPadding":2,"title":null}},
 "y2":{"datum":0},
 "color":{"field":"f","type":"nominal","scale":{"domain":[0,1,2],"range":["#484848","#8c8c8c","#c0c0c0"]},"legend":null},
 "order":{"field":"f","type":"quantitative","sort":"descending"}}},
{"data":{"values":[{}]},"mark":{"type":"rule","color":"#c0392b","strokeWidth":2.5},"encoding":{"x":{"datum":536,"scale":{"domain":[1,672],"range":[448.3,808],"nice":false,"zero":false},"axis":null},"y":{"datum":99.3,"scale":{"domain":[0,400],"range":[581,422.7],"nice":false,"zero":false},"axis":null},"y2":{"datum":31}}},
{"data":{"values":[{}]},"mark":{"type":"point","shape":"M-1,-1.8L0,0L1,-1.8","filled":false,"color":"#c0392b","strokeWidth":2.5,"size":100,"opacity":1},"encoding":{"x":{"datum":536,"scale":{"domain":[1,672],"range":[448.3,808],"nice":false,"zero":false},"axis":null},"y":{"datum":29.6,"scale":{"domain":[0,400],"range":[581,422.7],"nice":false,"zero":false},"axis":null}}},
{"data":{"name":"ins"},"transform":[{"filter":"datum.p == 'A1L'"}],"mark":{"type":"bar","fill":"#3f3f3f","stroke":"#111111","strokeWidth":1},"encoding":{"x":{"field":"k","type":"nominal","scale":{"domain":["-1","0","+1"],"range":[70,114],"paddingInner":0,"paddingOuter":0},"axis":{"orient":"bottom","offset":-521,"title":null,"ticks":false,"domain":false,"labelAngle":0,"labelFontSize":11,"labelPadding":6}},"y":{"field":"v","type":"quantitative","scale":{"domain":[0,100],"range":[109,31.7],"nice":false},"axis":{"orient":"left","offset":-70,"values":[0,33.3,66.7,100],"labels":false,"tickSize":5,"title":"Initial","titleX":-59.5,"titleY":97.5,"titleFontSize":15,"titleFontWeight":"bold","titleColor":"#000000","titleAlign":"center","titleBaseline":"middle","titleAngle":-90}}}},
{"data":{"name":"ins"},"transform":[{"filter":"datum.p == 'A1R'"}],"mark":{"type":"bar","fill":"#3f3f3f","stroke":"#111111","strokeWidth":1},"encoding":{"x":{"field":"k","type":"nominal","scale":{"domain":["-1","0","+1"],"range":[251.7,294],"paddingInner":0,"paddingOuter":0},"axis":{"orient":"bottom","offset":-521,"title":null,"ticks":false,"domain":false,"labelAngle":0,"labelFontSize":11,"labelPadding":6}},"y":{"field":"v","type":"quantitative","scale":{"domain":[0,100],"range":[109,31.7],"nice":false},"axis":{"orient":"left","offset":-251.7,"values":[0,33.3,66.7,100],"labels":false,"tickSize":5,"title":null}}}},
{"data":{"name":"ins"},"transform":[{"filter":"datum.p == 'A2L'"}],"mark":{"type":"bar","fill":"#3f3f3f","stroke":"#111111","strokeWidth":1},"encoding":{"x":{"field":"k","type":"nominal","scale":{"domain":["-1","0","+1"],"range":[70,112.7],"paddingInner":0,"paddingOuter":0},"axis":{"orient":"bottom","offset":-347.3,"title":null,"ticks":false,"domain":false,"labelAngle":0,"labelFontSize":11,"labelPadding":6}},"y":{"field":"v","type":"quantitative","scale":{"domain":[0,100],"range":[282.7,205],"nice":false},"axis":{"orient":"left","offset":-70,"values":[0,33.3,66.7,100],"labels":false,"tickSize":5,"title":"5 min","titleX":-60,"titleY":287,"titleFontSize":15,"titleFontWeight":"bold","titleColor":"#000000","titleAlign":"center","titleBaseline":"middle","titleAngle":-90}}}},
{"data":{"name":"ins"},"transform":[{"filter":"datum.p == 'A2R'"}],"mark":{"type":"bar","fill":"#3f3f3f","stroke":"#111111","strokeWidth":1},"encoding":{"x":{"field":"k","type":"nominal","scale":{"domain":["-1","0","+1"],"range":[250.7,294],"paddingInner":0,"paddingOuter":0},"axis":{"orient":"bottom","offset":-347.3,"title":null,"ticks":false,"domain":false,"labelAngle":0,"labelFontSize":11,"labelPadding":6}},"y":{"field":"v","type":"quantitative","scale":{"domain":[0,100],"range":[282.7,205],"nice":false},"axis":{"orient":"left","offset":-250.7,"values":[0,25,50,75,100],"labels":false,"tickSize":5,"title":null}}}},
{"data":{"name":"ins"},"transform":[{"filter":"datum.p == 'A3L'"}],"mark":{"type":"bar","fill":"#3f3f3f","stroke":"#111111","strokeWidth":1},"encoding":{"x":{"field":"k","type":"nominal","scale":{"domain":["-1","0","+1"],"range":[70,112.7],"paddingInner":0,"paddingOuter":0},"axis":{"orient":"bottom","offset":-122.7,"title":null,"ticks":false,"domain":false,"labelAngle":0,"labelFontSize":11,"labelPadding":6}},"y":{"field":"v","type":"quantitative","scale":{"domain":[0,100],"range":[507.3,429.3],"nice":false},"axis":{"orient":"left","offset":-70,"values":[0,33.3,66.7,100],"labels":false,"tickSize":5,"title":"30 min","titleX":-54.5,"titleY":507,"titleFontSize":15,"titleFontWeight":"bold","titleColor":"#000000","titleAlign":"center","titleBaseline":"middle","titleAngle":-90}}}},
{"data":{"name":"ins"},"transform":[{"filter":"datum.p == 'A3R'"}],"mark":{"type":"bar","fill":"#3f3f3f","stroke":"#111111","strokeWidth":1},"encoding":{"x":{"field":"k","type":"nominal","scale":{"domain":["-1","0","+1"],"range":[250.7,294],"paddingInner":0,"paddingOuter":0},"axis":{"orient":"bottom","offset":-122.7,"title":null,"ticks":false,"domain":false,"labelAngle":0,"labelFontSize":11,"labelPadding":6}},"y":{"field":"v","type":"quantitative","scale":{"domain":[0,100],"range":[507.3,429.3],"nice":false},"axis":{"orient":"left","offset":-250.7,"values":[0,33.3,66.7,100],"labels":false,"tickSize":5,"title":null}}}},
{"data":{"name":"ins"},"transform":[{"filter":"datum.p == 'B1L'"}],"mark":{"type":"bar","fill":"#3f3f3f","stroke":"#111111","strokeWidth":1},"encoding":{"x":{"field":"k","type":"nominal","scale":{"domain":["-1","0","+1"],"range":[509.3,553.3],"paddingInner":0,"paddingOuter":0},"axis":{"orient":"bottom","offset":-521.7,"title":null,"ticks":false,"domain":false,"labelAngle":0,"labelFontSize":11,"labelPadding":6}},"y":{"field":"v","type":"quantitative","scale":{"domain":[0,100],"range":[108.3,31.7],"nice":false},"axis":{"orient":"left","offset":-509.3,"values":[0,42.4,84.9],"labels":false,"tickSize":5,"title":null}}}},
{"data":{"name":"ins"},"transform":[{"filter":"datum.p == 'B1R'"}],"mark":{"type":"bar","fill":"#3f3f3f","stroke":"#111111","strokeWidth":1},"encoding":{"x":{"field":"k","type":"nominal","scale":{"domain":["-1","0","+1"],"range":[746.7,790],"paddingInner":0,"paddingOuter":0},"axis":{"orient":"bottom","offset":-521.7,"title":null,"ticks":false,"domain":false,"labelAngle":0,"labelFontSize":11,"labelPadding":6}},"y":{"field":"v","type":"quantitative","scale":{"domain":[0,100],"range":[108.3,31.7],"nice":false},"axis":{"orient":"left","offset":-746.7,"values":[0,33.3,66.7,100],"labels":false,"tickSize":5,"title":null}}}},
{"data":{"name":"ins"},"transform":[{"filter":"datum.p == 'B2L'"}],"mark":{"type":"bar","fill":"#3f3f3f","stroke":"#111111","strokeWidth":1},"encoding":{"x":{"field":"k","type":"nominal","scale":{"domain":["-1","0","+1"],"range":[509.3,553.3],"paddingInner":0,"paddingOuter":0},"axis":{"orient":"bottom","offset":-347.7,"title":null,"ticks":false,"domain":false,"labelAngle":0,"labelFontSize":11,"labelPadding":6}},"y":{"field":"v","type":"quantitative","scale":{"domain":[0,100],"range":[282.3,206],"nice":false},"axis":{"orient":"left","offset":-509.3,"values":[0,25,50,75,100],"labels":false,"tickSize":5,"title":null}}}},
{"data":{"name":"ins"},"transform":[{"filter":"datum.p == 'B2R'"}],"mark":{"type":"bar","fill":"#3f3f3f","stroke":"#111111","strokeWidth":1},"encoding":{"x":{"field":"k","type":"nominal","scale":{"domain":["-1","0","+1"],"range":[746.7,790],"paddingInner":0,"paddingOuter":0},"axis":{"orient":"bottom","offset":-347.7,"title":null,"ticks":false,"domain":false,"labelAngle":0,"labelFontSize":11,"labelPadding":6}},"y":{"field":"v","type":"quantitative","scale":{"domain":[0,100],"range":[282.3,206],"nice":false},"axis":{"orient":"left","offset":-746.7,"values":[0,33.3,66.7,100],"labels":false,"tickSize":5,"title":null}}}},
{"data":{"name":"ins"},"transform":[{"filter":"datum.p == 'B3L'"}],"mark":{"type":"bar","fill":"#3f3f3f","stroke":"#111111","strokeWidth":1},"encoding":{"x":{"field":"k","type":"nominal","scale":{"domain":["-1","0","+1"],"range":[509.3,553.3],"paddingInner":0,"paddingOuter":0},"axis":{"orient":"bottom","offset":-123.3,"title":null,"ticks":false,"domain":false,"labelAngle":0,"labelFontSize":11,"labelPadding":6}},"y":{"field":"v","type":"quantitative","scale":{"domain":[0,100],"range":[506.7,429.3],"nice":false},"axis":{"orient":"left","offset":-509.3,"values":[0,33.3,66.7,100],"labels":false,"tickSize":5,"title":null}}}},
{"data":{"name":"ins"},"transform":[{"filter":"datum.p == 'B3R'"}],"mark":{"type":"bar","fill":"#3f3f3f","stroke":"#111111","strokeWidth":1},"encoding":{"x":{"field":"k","type":"nominal","scale":{"domain":["-1","0","+1"],"range":[746.7,790],"paddingInner":0,"paddingOuter":0},"axis":{"orient":"bottom","offset":-123.3,"title":null,"ticks":false,"domain":false,"labelAngle":0,"labelFontSize":11,"labelPadding":6}},"y":{"field":"v","type":"quantitative","scale":{"domain":[0,100],"range":[506.7,429.3],"nice":false},"axis":{"orient":"left","offset":-746.7,"values":[0,50,100],"labels":false,"tickSize":5,"title":null}}}}
],
"resolve":{"scale":{"x":"independent","y":"independent","color":"independent"},"axis":{"x":"independent","y":"independent"},"legend":{"color":"independent"}}
}
